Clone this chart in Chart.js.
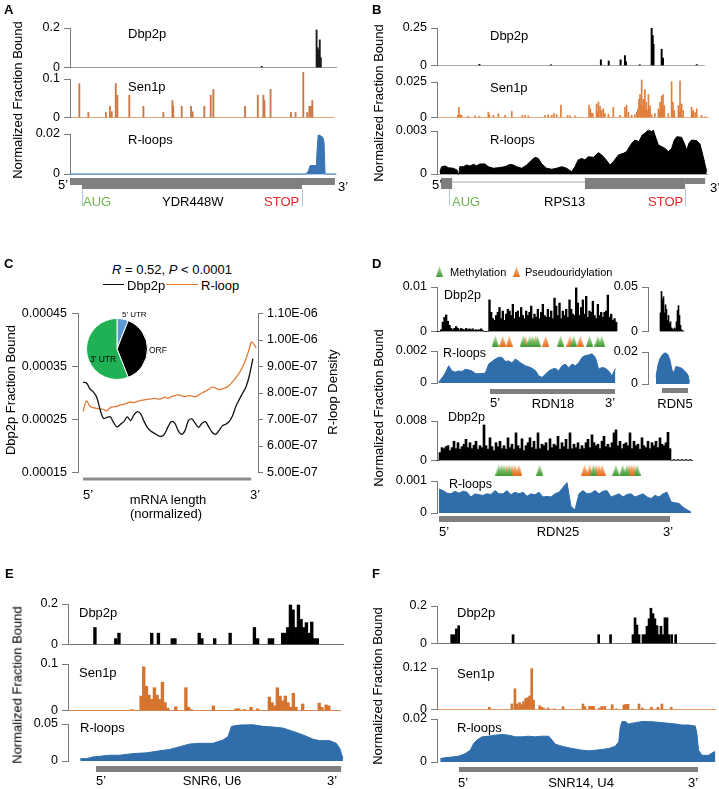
<!DOCTYPE html>
<html lang="en">
<head>
<meta charset="UTF-8" />
<title>Dbp2p, Sen1p and R-loop profiles</title>
<script src="https://cdn.jsdelivr.net/npm/chart.js"></script>
<style>
  html, body { margin: 0; padding: 0; background: #fff; }
  body {
    position: relative;
    width: 719px;
    height: 789px;
    overflow: hidden;
    font-family: "Liberation Sans", Arial, sans-serif;
    color: #000;
  }
  canvas { position: absolute; }
  .lbl { position: absolute; white-space: nowrap; line-height: 1; }
</style>
</head>
<body>
<script>
  // ---------- data (positions are along each locus, values are fraction bound / density) ----------

  // A: YDR448W
  const aDbpPos = [72.1, 92.7, 93.1, 93.5, 93.9, 94.3];
  const aDbpVal = [0.006, 0.19, 0.1, 0.09, 0.14, 0.05];
  const aSenPos = [3.5, 6.9, 13.5, 15.0, 15.7, 17.2, 17.8, 22.3, 27.6, 35.1, 38.5, 38.8, 42.0, 45.5, 46.1,
                   50.5, 52.9, 53.9, 65.8, 70.6, 72.7, 73.1, 75.4, 83.1, 84.8, 87.7, 89.2, 90.0, 90.6, 91.1];
  const aSenVal = [0.088, 0.013, 0.013, 0.029, 0.015, 0.088, 0.058, 0.058, 0.029, 0.013, 0.044, 0.03, 0.029, 0.029, 0.015,
                   0.029, 0.058, 0.073, 0.029, 0.058, 0.058, 0.044, 0.073, 0.013, 0.013, 0.117, 0.013, 0.029, 0.029, 0.044];
  const aRlPos = [0, 88.8, 89.6, 90.3, 92.6, 92.9, 93.3, 94.0, 95.1, 95.5, 95.9, 100];
  const aRlVal = [0, 0, 0.0015, 0.0042, 0.0042, 0.012, 0.0195, 0.0193, 0.0182, 0.016, 0, 0];
  const aLocus = [0, 99.6];
  const aOrf = [4.5, 87.2];

  // B: RPS13
  const bDbpPos = [15.7, 42.2, 60.7, 63.6, 68.0, 69.6, 70.0, 75.1, 79.5, 79.9, 80.2, 83.2, 83.7, 96.2];
  const bDbpVal = [0.008, 0.005, 0.038, 0.03, 0.038, 0.066, 0.024, 0.005, 0.248, 0.2, 0.141, 0.109, 0.05, 0.006];
  const bSenPos = [7.7, 8.1, 8.6, 9.1, 11.6, 14.1, 15.7, 19.0, 19.4, 20.9, 22.7, 25.2, 27.7, 31.6, 32.6, 33.8, 40.0,
                   41.2, 42.5, 43.3, 44.3, 45.9, 48.4, 49.3, 51.1, 56.3, 56.8, 57.3, 57.7, 59.1, 59.5, 59.8, 60.4,
                   61.0, 61.6, 62.2, 63.5, 65.3, 67.8, 69.6, 70.2, 70.9, 72.1, 73.3, 74.0, 74.4, 74.8, 75.2, 75.5,
                   75.8, 76.1, 76.4, 76.7, 77.0, 77.3, 77.5, 77.9, 78.3, 78.6, 78.9, 79.5, 80.7, 82.0, 82.3, 82.6,
                   82.9, 83.2, 83.5, 83.7, 84.0, 84.2, 85.7, 86.9, 87.2, 87.4, 87.9, 89.4, 89.7, 90.0, 90.3, 90.6,
                   91.2, 94.3, 94.6, 94.9, 95.6, 96.2, 98.0, 99.5];
  const bSenVal = [0.0015, 0.0072, 0.002, 0.0015, 0.0009, 0.0011, 0.0009, 0.0038, 0.002, 0.0016, 0.0027, 0.0016, 0.0043,
                   0.0016, 0.0016, 0.0011, 0.0016, 0.002, 0.0016, 0.0027, 0.002, 0.0088, 0.0016, 0.0011, 0.0011, 0.0088,
                   0.0061, 0.003, 0.0027, 0.0095, 0.004, 0.011, 0.0079, 0.005, 0.0061, 0.0027, 0.0023, 0.0072, 0.0016,
                   0.0072, 0.0088, 0.0038, 0.0016, 0.002, 0.0038, 0.006, 0.0128, 0.0162, 0.009, 0.0264, 0.008, 0.0128,
                   0.007, 0.0196, 0.006, 0.0106, 0.005, 0.0162, 0.006, 0.0083, 0.002, 0.0027, 0.0061, 0.004, 0.0106,
                   0.006, 0.0151, 0.008, 0.0162, 0.005, 0.0083, 0.0027, 0.0252, 0.006, 0.0106, 0.005, 0.0083, 0.004,
                   0.0259, 0.006, 0.0095, 0.005, 0.0072, 0.004, 0.005, 0.0034, 0.0061, 0.0016, 0.0005];
  const bRlPos = [1.1, 1.7, 3.0, 4.2, 6.0, 7.4, 7.7, 8.1, 8.4, 9.8, 11.0, 12.2, 13.5, 14.7, 15.9, 17.8, 19.0, 20.9,
                  22.7, 25.2, 27.0, 28.3, 29.5, 31.4, 33.2, 35.1, 36.3, 37.5, 38.8, 40.6, 42.5, 44.3, 46.2, 48.0,
                  49.9, 51.1, 52.3, 53.6, 54.8, 56.0, 57.9, 59.8, 61.0, 62.2, 64.1, 65.3, 67.2, 69.0, 70.2, 72.1,
                  73.3, 74.8, 76.0, 77.0, 78.3, 79.5, 80.1, 80.7, 82.0, 83.2, 84.4, 85.7, 86.9, 87.9, 88.8, 90.6,
                  91.6, 92.5, 93.3, 94.3, 96.2, 97.4, 98.6, 99.9];
  const bRlVal = [0.00016, 0.00051, 0.00056, 0.00044, 0.0004, 0.00028, 0, 0, 0.00051, 0.00051, 0.00063, 0.00056,
                  0.00067, 0.00058, 0.0007, 0.0007, 0.00051, 0.0004, 0.00044, 0.00051, 0.00067, 0.00063, 0.00051,
                  0.0004, 0.00063, 0.00098, 0.00116, 0.00109, 0.0007, 0.0004, 0.00033, 0.0004, 0.00051, 0.0004,
                  0.00016, 0.00051, 0.00098, 0.00109, 0.00098, 0.00121, 0.00116, 0.00149, 0.00133, 0.00109, 0.00063,
                  0.00086, 0.00133, 0.00144, 0.00156, 0.00214, 0.00237, 0.00226, 0.00272, 0.00284, 0.00307, 0.00295,
                  0.00307, 0.00272, 0.00202, 0.00191, 0.00179, 0.00156, 0.00179, 0.00237, 0.0026, 0.00256, 0.00214,
                  0.00167, 0.00214, 0.00237, 0.00233, 0.00209, 0.00121, 0.00016];
  const bExon1 = [1.5, 5.6];
  const bIntron = [5.6, 54.8];
  const bCds2 = [54.8, 91.9];
  const bUtr3 = [91.9, 99.3];
  const bAug = 4.4, bStop = 91.9;

  // C: metagene (x = % of mRNA length)
  const cDbpX = [0, 2, 4, 6, 8, 10, 12, 14, 16, 18, 20, 22, 24, 26, 28, 30, 32, 34, 36, 38, 40, 42, 44, 46, 48, 50,
                 52, 54, 56, 58, 60, 62, 64, 66, 68, 70, 72, 74, 76, 78, 80, 82, 84, 86, 88, 90, 92, 94, 96, 98, 100];
  const cDbp = [0.00032, 0.000319, 0.000308, 0.000302, 0.000292, 0.000269, 0.000252, 0.000254, 0.000255, 0.000244,
                0.000236, 0.000241, 0.000246, 0.000255, 0.000248, 0.000259, 0.000265, 0.00026, 0.000246, 0.000234,
                0.000228, 0.000224, 0.00022, 0.000218, 0.000223, 0.000236, 0.000246, 0.000243, 0.000229, 0.000222,
                0.000229, 0.000248, 0.000251, 0.000243, 0.000235, 0.000243, 0.000246, 0.000236, 0.000226, 0.000222,
                0.000229, 0.000238, 0.000241, 0.000246, 0.000257, 0.000275, 0.000288, 0.0003, 0.000312, 0.000334,
                0.000365];
  const cRlX = [0, 2, 4, 6, 8, 10, 12, 14, 16, 18, 20, 22, 24, 26, 28, 30, 32, 34, 36, 38, 40, 42, 44, 46, 48, 50,
                52, 54, 56, 58, 60, 62, 64, 66, 68, 70, 72, 74, 76, 78, 80, 82, 84, 86, 88, 90, 92, 94, 96, 98, 99, 100, 102];
  const cRl = [7.3e-7, 7.7e-7, 7.5e-7, 7.45e-7, 7.42e-7, 7.4e-7, 7.38e-7, 7.33e-7, 7.45e-7, 7.48e-7,
               7.5e-7, 7.55e-7, 7.57e-7, 7.62e-7, 7.66e-7, 7.64e-7, 7.68e-7, 7.72e-7, 7.74e-7, 7.76e-7,
               7.78e-7, 7.8e-7, 7.77e-7, 7.78e-7, 7.84e-7, 7.8e-7, 7.86e-7, 7.9e-7, 7.93e-7, 7.9e-7,
               7.86e-7, 7.9e-7, 7.88e-7, 7.86e-7, 7.92e-7, 8.0e-7, 8.06e-7, 8.14e-7, 8.22e-7, 8.18e-7,
               8.13e-7, 8.16e-7, 8.2e-7, 8.28e-7, 8.42e-7, 8.58e-7, 8.76e-7, 9.0e-7, 9.3e-7, 9.7e-7,
               9.92e-7, 9.88e-7, 9.7e-7];
  const cLeftTicks = [0.00015, 0.00025, 0.00035, 0.00045];
  const cLeftLabels = ['0.00015', '0.00025', '0.00035', '0.00045'];
  const cRightTicks = [5e-7, 6e-7, 7e-7, 8e-7, 9e-7, 1e-6, 1.1e-6];
  const cRightLabels = ['5.00E-07', '6.00E-07', '7.00E-07', '8.00E-07', '9.00E-07', '1.00E-06', '1.10E-06'];
  const cBar = [0, 99];
  const pieLabels = ['5’ UTR', 'ORF', '3’ UTR'];
  const pieShares = [6, 38, 56];

  // D: rDNA (RDN18, RDN5, RDN25), binned signals
  const d18Dbp = [0, 0, 0.0004, 0.0021, 0.0032, 0.0037, 0.0023, 0.0014, 0.0007, 0.0004, 0.0007, 0.0011, 0.0007,
                  0.0004, 0.0007, 0.0005, 0.0004, 0.0007, 0.0004, 0.0006, 0.0004, 0.0006, 0.0003, 0.0004, 0.0003,
                  0.0004, 0.0006, 0.0002, 0, 0, 0, 0.0071,
                  0.0043, 0.0029, 0.0025, 0.0036, 0.0043, 0.0054, 0.0029, 0.0046, 0.0025, 0.0039,
                  0.005, 0.0046, 0.0036, 0.0061, 0.0029, 0.0043, 0.0046, 0.0032, 0.0054, 0.0036,
                  0.0029, 0.0046, 0.0036, 0.0043, 0.0057, 0.0029, 0.0039, 0.0032, 0.005, 0.0029,
                  0.0043, 0.0061, 0.0036, 0.0032, 0.005, 0.0032, 0.0046, 0.0029, 0.0075, 0.0057,
                  0.0036, 0.0064, 0.0029, 0.0046, 0.0036, 0.005, 0.0032, 0.0071, 0.005, 0.0039,
                  0.0036, 0.0098, 0.0064, 0.0036, 0.0054, 0.0071, 0.0039, 0.0079, 0.0032, 0.0046,
                  0.0043, 0.0068, 0.0036, 0.0029, 0.0061, 0.0036, 0.0043, 0.0032, 0.0043, 0.0046,
                  0.0082, 0.0032, 0.0039, 0.0025, 0.0029, 0.0021];
  const d18Rl = [0.00005, 0.00032, 0.00062, 0.00108, 0.00075, 0.00068, 0.00075, 0.00072, 0.00086, 0.00082,
                 0.00075, 0.0006, 0.00058, 0.0006, 0.00062, 0.00118, 0.00135, 0.0015, 0.00161, 0.0016,
                 0.00135, 0.00138, 0.00125, 0.0015, 0.00135, 0.0012, 0.00108, 0.00101, 0.00092, 0.00078,
                 0.00045, 0.00035, 0.00054, 0.00075, 0.00086, 0.00092, 0.00075, 0.00108, 0.00118, 0.00095,
                 0.00118, 0.00108, 0.00125, 0.0016, 0.00172, 0.00175, 0.00183, 0.0016, 0.00086, 0.00097,
                 0.00092, 0.00075, 0.00045, 0.0009];
  const d18Methyl = [33.6, 51.6, 55.8, 57.6, 60.6, 75.6, 84, 94.2, 99.6, 102];
  const d18Pseudo = [38.4, 42.6, 52.8, 59.4, 66, 81.6, 88.2];
  const d18Gene = [31.8, 106.8];

  const d5Dbp = [0.021, 0.045, 0.036, 0.039, 0.021, 0.03, 0.025, 0.0125, 0.018, 0.009, 0.011, 0.004,
                 0.003, 0.002, 0.004, 0.003, 0.011, 0.0236, 0.029, 0.018, 0.007, 0.002, 0.001, 0.0005];
  const d5RlPos = [8, 10, 12, 14, 16, 18, 20, 22, 24, 26, 28, 30, 32, 34, 36, 38, 40, 41.5];
  const d5RlVal = [0.0045, 0.012, 0.0159, 0.0179, 0.0192, 0.0194, 0.0182, 0.0148, 0.0087, 0.0072, 0.011,
                   0.0106, 0.0103, 0.0097, 0.0085, 0.0072, 0.0055, 0.001];
  const d5Gene = [14, 40];

  const d25Dbp = [0,
    0.0016, 0.0026, 0.0024, 0.0028, 0.003, 0.002, 0.0026, 0.0039, 0.0024, 0.0036,
    0.0023, 0.0028, 0.0033, 0.0043, 0.0026, 0.0036, 0.0024, 0.0031, 0.0039, 0.0023,
    0.003, 0.0026, 0.0072, 0.003, 0.0023, 0.0046, 0.0028, 0.002, 0.0036, 0.0028,
    0.0039, 0.0024, 0.003, 0.0023, 0.0046, 0.0026, 0.0033, 0.0023, 0.0056, 0.003,
    0.0024, 0.0044, 0.002, 0.003, 0.0036, 0.0046, 0.0026, 0.0039, 0.0023, 0.0056,
    0.0024, 0.0033, 0.003, 0.0036, 0.002, 0.0044, 0.0026, 0.0033, 0.003, 0.0049,
    0.0023, 0.0036, 0.0028, 0.0043, 0.0023, 0.0056, 0.0024, 0.0033, 0.0026, 0.0036,
    0.0023, 0.003, 0.0024, 0.0036, 0.0043, 0.0026, 0.0052, 0.0036, 0.003, 0.0033,
    0.0024, 0.0039, 0.0049, 0.0028, 0.0033, 0.0026, 0.0036, 0.0056, 0.0062, 0.003,
    0.0039, 0.0024, 0.0033, 0.0036, 0.003, 0.0056, 0.0024, 0.0039, 0.003, 0.0033,
    0.0023, 0.0046, 0.003, 0.0026, 0.0039, 0.0024, 0.0036, 0.003, 0.0039, 0.0026,
    0.0046, 0.0033, 0.003, 0.0036, 0.0057, 0.0024,
    0, 0.0002, 0, 0.0002, 0, 0.0002, 0, 0.0002, 0, 0.0002, 0];
  const d25Rl = [0.00075, 0.0007, 0.00062, 0.0006, 0.00068, 0.00062, 0.00068, 0.00065, 0.0005, 0.0006,
                 0.00057, 0.00055, 0.0006, 0.00058, 0.0007, 0.0006, 0.0006, 0.0007, 0.00057, 0.00065,
                 0.0006, 0.00065, 0.00052, 0.0006, 0.00057, 0.00065, 0.0005, 0.00052, 0.0005, 0.0006,
                 0.00065, 0.0008, 0.00095, 0.0002, 0.0001, 0.0006, 0.0007, 0.0006, 0.00062, 0.0007,
                 0.0006, 0.00068, 0.0007, 0.0005, 0.00055, 0.0006, 0.0005, 0.00058, 0.0006, 0.0005,
                 0.00055, 0.0006, 0.0005, 0.00045, 0.00055, 0.0005, 0.0006, 0.00065, 0.00035, 0.00032,
                 0.0003, 0.00018, 0.0001, 0.00003];
  const d25Methyl = [29.3, 30.7, 32, 34.8, 50.7, 79, 90.7, 94.3, 96.5, 101.8];
  const d25Pseudo = [33.5, 36.2, 37.8, 39.8, 74.3, 77, 80.3, 81.8, 83.5, 97.8, 99, 100.2];
  const d25Gene = [1, 116.5];

  // E: SNR6 (U6)
  const eDbpPos = [10.1, 17.9, 19.1, 31.4, 33.9, 39.1, 40.1, 49.2, 50.2, 55, 60.8, 69.9, 71.1, 75.5, 76.7,
                   80.5, 81.4, 82.4, 83.4, 84.4, 85.4, 86.4, 87.4, 88.4, 89.4, 90.4, 91.4, 92.5, 93.5];
  const eDbpVal = [0.084, 0.029, 0.056, 0.056, 0.056, 0.029, 0.029, 0.056, 0.029, 0.029, 0.056, 0.084, 0.029, 0.029,
                   0.029, 0.056, 0.056, 0.084, 0.195, 0.171, 0.084, 0.195, 0.124, 0.084, 0.108, 0.056, 0.111, 0.029, 0.029];
  const eSenPos = [24, 27.4, 28.4, 29.4, 30.4, 31.4, 32.4, 33.4, 34.4, 35.4, 36.4, 37.4, 40.4, 44.2, 45.2, 46.2,
                   54.5, 63, 64, 66.1, 68.6, 71.1, 75.5, 76.5, 77.5, 78.5, 79.5, 80.5, 81.5, 82.5, 83.5, 84.5,
                   85.5, 88, 94.2, 95.2, 96.8, 97.8];
  const eSenVal = [0.002, 0.031, 0.094, 0.052, 0.033, 0.024, 0.049, 0.033, 0.024, 0.061, 0.017, 0.005, 0.008, 0.049,
                   0.007, 0.002, 0.01, 0.0035, 0.0035, 0.002, 0.007, 0.0035, 0.029, 0.017, 0.01, 0.049, 0.031, 0.021,
                   0.031, 0.017, 0.007, 0.037, 0.007, 0.014, 0.016, 0.007, 0.012, 0.01];
  const eRlPos = [4.6, 6.9, 9.4, 11.9, 15.6, 19.4, 24.4, 29.4, 34.4, 38.1, 41.9, 45.6, 49.4, 54.4, 58.1, 60, 61.3,
                  64.4, 69.4, 73.1, 76.9, 80.6, 84.4, 88.1, 91.9, 94.4, 98.1, 100.6, 101.9, 103.1];
  const eRlVal = [0.0032, 0.0032, 0.0055, 0.0064, 0.0078, 0.0078, 0.01, 0.011, 0.0138, 0.0156, 0.0193, 0.0229,
                  0.0239, 0.0239, 0.0284, 0.033, 0.0468, 0.0486, 0.049, 0.0468, 0.0459, 0.0445, 0.04, 0.0353,
                  0.0294, 0.0275, 0.0275, 0.0239, 0.017, 0.0032];
  const eGene = [10.5, 102.4];

  // F: SNR14 (U4)
  const fDbpPos = [6.3, 7.3, 8.3, 9.3, 32.6, 69.3, 74.4, 84, 84.9, 85.7, 86.6, 88.3, 89.1, 90, 90.9, 91.7, 92.6,
                   93.4, 94.3, 95.1, 96, 96.9, 97.7, 98.6, 99.4, 100.6, 102.3];
  const fDbpVal = [0.047, 0.047, 0.078, 0.095, 0.047, 0.047, 0.047, 0.047, 0.137, 0.098, 0.047, 0.047, 0.047, 0.092,
                   0.132, 0.188, 0.159, 0.132, 0.095, 0.047, 0.092, 0.047, 0.137, 0.137, 0.047, 0.047, 0.047];
  const fSenPos = [22.4, 32.1, 33.4, 34.3, 35.4, 36.3, 37.1, 38, 38.9, 39.7, 40.6, 41.4, 44, 44.9, 45.7, 47.6, 50.4,
                   54, 62.6, 63.4, 65.4, 66.3, 67.1, 69.7, 70.7, 71.9, 75.1, 76.9, 80.1, 81, 81.9, 86.6, 88, 91.9,
                   94.7, 96.4, 100.4];
  const fSenVal = [0.0065, 0.016, 0.06, 0.016, 0.02, 0.014, 0.023, 0.032, 0.034, 0.039, 0.118, 0.027, 0.011, 0.0065,
                   0.004, 0.004, 0.002, 0.008, 0.016, 0.008, 0.009, 0.009, 0.009, 0.004, 0.009, 0.009, 0.014, 0.002,
                   0.013, 0.015, 0.015, 0.016, 0.004, 0.0065, 0.0065, 0.016, 0.0065];
  const fRlPos = [1.4, 3.6, 6.4, 9.3, 12.1, 14.3, 15.7, 17.1, 19.3, 22.1, 25, 27.9, 30.7, 33.6, 36.4, 39.3, 42.1, 45,
                  47.9, 49.3, 50.7, 53.6, 57.9, 62.1, 65, 67.9, 70.7, 73.6, 76.4, 77.9, 78.6, 79.3, 80.7, 82.1, 85,
                  87.9, 90.7, 93.6, 96.4, 99.3, 102.1, 105, 107.9, 110.7, 111.4, 112.1, 113.6, 116.4, 118.6, 119.3];
  const fRlVal = [0.0016, 0.002, 0.0023, 0.0027, 0.0039, 0.0055, 0.0086, 0.0102, 0.0117, 0.012, 0.0125, 0.0128,
                  0.0125, 0.0117, 0.0117, 0.012, 0.0117, 0.012, 0.012, 0.0102, 0.0083, 0.0073, 0.0063, 0.0055,
                  0.0052, 0.0055, 0.0058, 0.0063, 0.0073, 0.0094, 0.0164, 0.0188, 0.0188, 0.0177, 0.0183, 0.0188,
                  0.0188, 0.0186, 0.0183, 0.018, 0.0177, 0.0172, 0.0172, 0.0167, 0.0133, 0.0055, 0.0031, 0.0031,
                  0.0047, 0.0047];
  const fGene = [9.4, 111.9];

  // ---------- styling ----------
  const AXIS = '#7a7a7a';
  const GREY = '#7f7f7f';
  const BLUE = '#2f6eaa';
  const ORANGE = '#d4742f';

  Chart.defaults.font.family = '"Liberation Sans", Arial, sans-serif';
  Chart.defaults.color = '#000';
  Chart.defaults.animation = false;
  Chart.defaults.plugins.legend.display = false;
  Chart.defaults.plugins.tooltip.enabled = false;

  function canvasAt(x, y, w, h) {
    const c = document.createElement('canvas');
    c.width = w;
    c.height = h;
    c.style.left = x + 'px';
    c.style.top = y + 'px';
    c.style.width = w + 'px';
    c.style.height = h + 'px';
    document.body.appendChild(c);
    return c;
  }

  function pts(xs, ys) {
    return xs.map((x, i) => ({ x: x, y: ys[i] }));
  }

  // equal-width bins: first bin centre and bin width along the locus
  function binned(ys, first, width) {
    return ys.map((y, i) => ({ x: first + i * width, y: y }));
  }

  function bars(data, color, thick) {
    return { type: 'bar', data: data, backgroundColor: color, barThickness: thick, clip: false };
  }

  function area(data, color) {
    return {
      type: 'line', data: data, borderColor: color, backgroundColor: color, borderWidth: 1,
      pointRadius: 0, fill: 'origin', tension: 0, clip: false
    };
  }

  // gene model drawn under the chart area, placed with the chart's own x scale
  function geneLayer(gene) {
    return {
      id: 'geneLayer',
      afterDraw(chart) {
        const { ctx, chartArea, scales } = chart;
        const x = scales.x;
        ctx.save();
        gene.parts.forEach(p => {
          const x0 = x.getPixelForValue(p.span[0]);
          const x1 = x.getPixelForValue(p.span[1]);
          ctx.fillStyle = p.color || GREY;
          ctx.fillRect(x0, chartArea.bottom + p.dy, x1 - x0, p.h);
        });
        (gene.marks || []).forEach(m => {
          const xm = Math.round(x.getPixelForValue(m)) + 0.5;
          ctx.strokeStyle = '#a9c8e6';
          ctx.lineWidth = 1;
          ctx.beginPath();
          ctx.moveTo(xm, chartArea.bottom + gene.markFrom);
          ctx.lineTo(xm, chartArea.bottom + gene.markTo);
          ctx.stroke();
        });
        ctx.restore();
      }
    };
  }

  // one signal track: y axis with 0 and max ticks, baseline at 0
  function track(t) {
    const axisW = 60, padT = 12, padR = 3, padB = t.padB || 10;
    const w = axisW + (t.right - t.axisX) + padR;
    const h = padT + (t.bottom - t.top) + padB;
    const c = canvasAt(t.axisX - axisW, t.top - padT, w, h);
    const yLabels = ['0', t.yLabel];
    new Chart(c, {
      type: 'bar',
      data: { datasets: t.datasets },
      options: {
        responsive: false,
        layout: { padding: { left: 0, top: padT, right: padR, bottom: padB } },
        scales: {
          x: {
            type: 'linear', min: 0, max: (t.right - t.axisX) / t.ppu, offset: false,
            ticks: { display: false },
            grid: { display: false, drawTicks: false },
            border: { display: !!t.base, color: t.base || AXIS, width: 1 }
          },
          y: {
            type: 'linear', min: 0, max: t.ymax,
            afterFit: s => { s.width = axisW; },
            afterBuildTicks: s => { s.ticks = [{ value: 0 }, { value: t.ymax }]; },
            ticks: { callback: (v, i) => yLabels[i], padding: 4, font: { size: 12.5 }, color: '#000' },
            grid: { drawOnChartArea: false, tickLength: 6, color: AXIS },
            border: { display: true, color: AXIS, width: 1 }
          }
        }
      },
      plugins: t.gene ? [geneLayer(t.gene)] : []
    });
  }

  function triImage(top, bottom) {
    const c = document.createElement('canvas');
    c.width = 7;
    c.height = 11;
    const g = c.getContext('2d');
    const grad = g.createLinearGradient(0, 0, 0, 11);
    grad.addColorStop(0, top);
    grad.addColorStop(1, bottom);
    g.fillStyle = grad;
    g.beginPath();
    g.moveTo(3.5, 0);
    g.lineTo(7, 11);
    g.lineTo(0, 11);
    g.closePath();
    g.fill();
    return c;
  }
  const TRI_G = ['#b9dea6', '#3f9b34'];
  const TRI_O = ['#f6c8a0', '#e66c17'];
  const triGreen = triImage(TRI_G[0], TRI_G[1]);
  const triOrange = triImage(TRI_O[0], TRI_O[1]);

  function modTrack(m) {
    const c = canvasAt(m.axisX, m.top, m.right - m.axisX, 12);
    new Chart(c, {
      type: 'scatter',
      data: {
        datasets: [
          { data: m.methyl.map(x => ({ x: x, y: 0.5 })), pointStyle: triGreen, pointRadius: 5, clip: false },
          { data: m.pseudo.map(x => ({ x: x, y: 0.5 })), pointStyle: triOrange, pointRadius: 5, clip: false }
        ]
      },
      options: {
        responsive: false,
        layout: { padding: 0 },
        scales: {
          x: { type: 'linear', min: 0, max: (m.right - m.axisX) / m.ppu, display: false },
          y: { min: 0, max: 1, display: false }
        }
      }
    });
  }

  // ---------- panel A ----------
  track({ axisX: 70, right: 336, top: 28, bottom: 69, ppu: 2.66, ymax: 0.2, yLabel: '0.2', base: '#9a9a9a',
          datasets: [bars(pts(aDbpPos, aDbpVal), '#1a1a1a', 1.2)] });
  track({ axisX: 70, right: 333, top: 79, bottom: 119, ppu: 2.66, ymax: 0.1, yLabel: '0.1', base: '#e2a57e',
          datasets: [bars(pts(aSenPos, aSenVal), '#c97845', 1.2)] });
  track({ axisX: 70, right: 336, top: 134, bottom: 174, ppu: 2.66, ymax: 0.02, yLabel: '0.02', base: '#b4cfe9',
          padB: 36, datasets: [area(pts(aRlPos, aRlVal), '#3a76b4')],
          gene: { parts: [{ span: aLocus, dy: 4, h: 7 }, { span: aOrf, dy: 4, h: 11 }],
                  marks: aOrf, markFrom: 15, markTo: 32 } });

  // ---------- panel B ----------
  track({ axisX: 437, right: 704, top: 28, bottom: 67, ppu: 2.7, ymax: 0.25, yLabel: '0.25', base: '#aaaaaa',
          datasets: [bars(pts(bDbpPos, bDbpVal), '#000', 1.3)] });
  track({ axisX: 437, right: 708, top: 82, bottom: 119, ppu: 2.7, ymax: 0.025, yLabel: '0.025', base: '#e9b08a',
          datasets: [bars(pts(bSenPos, bSenVal), '#e07e3c', 1)] });
  track({ axisX: 437, right: 707, top: 131, bottom: 174, ppu: 2.7, ymax: 0.003, yLabel: '0.003', base: '#aaaaaa',
          padB: 36, datasets: [area(pts(bRlPos, bRlVal), '#000')],
          gene: { parts: [{ span: bExon1, dy: 4, h: 11 }, { span: bIntron, dy: 7, h: 2, color: '#d6d6d6' },
                          { span: bCds2, dy: 4, h: 11 }, { span: bUtr3, dy: 4, h: 6 }],
                  marks: [bAug, bStop], markFrom: 15, markTo: 32 } });

  // ---------- panel C ----------
  const cCanvas = canvasAt(8, 301, 330, 184);
  new Chart(cCanvas, {
    type: 'line',
    data: {
      datasets: [
        { data: pts(cDbpX, cDbp), yAxisID: 'y', borderColor: '#111', borderWidth: 1.3, pointRadius: 0, tension: 0.35 },
        { data: pts(cRlX, cRl), yAxisID: 'y1', borderColor: '#e07b39', borderWidth: 1.3, pointRadius: 0, tension: 0.35 }
      ]
    },
    options: {
      responsive: false,
      layout: { padding: { left: 0, right: 0, top: 10, bottom: 12 } },
      scales: {
        x: { type: 'linear', min: -3, max: 103, display: false },
        y: {
          position: 'left', min: 0.00015, max: 0.00045,
          afterFit: s => { s.width = 70; },
          afterBuildTicks: s => { s.ticks = cLeftTicks.map(v => ({ value: v })); },
          ticks: { callback: (v, i) => cLeftLabels[i], padding: 5, font: { size: 12.5 } },
          grid: { drawOnChartArea: false, tickLength: 6, color: AXIS },
          border: { color: AXIS }
        },
        y1: {
          position: 'right', min: 5e-7, max: 1.1e-6,
          afterFit: s => { s.width = 80; },
          afterBuildTicks: s => { s.ticks = cRightTicks.map(v => ({ value: v })); },
          ticks: { callback: (v, i) => cRightLabels[i], padding: 4, font: { size: 12.5 } },
          grid: { drawOnChartArea: false, tickLength: 5, color: AXIS },
          border: { color: AXIS }
        }
      }
    },
    plugins: [geneLayer({ parts: [{ span: cBar, dy: 5, h: 3, color: '#8c8c8c' }] })]
  });

  const pieCanvas = canvasAt(85, 317, 64, 64);
  new Chart(pieCanvas, {
    type: 'pie',
    data: {
      labels: pieLabels,
      datasets: [{ data: pieShares, backgroundColor: ['#5b9bd5', '#000000', '#1fb153'], borderColor: '#fff', borderWidth: 1 }]
    },
    options: { responsive: false, layout: { padding: 1 } }
  });

  // ---------- panel D ----------
  track({ axisX: 437, right: 617, top: 287, bottom: 333, ppu: 1.667, ymax: 0.01, yLabel: '0.01',
          datasets: [bars(binned(d18Dbp, 0.5, 1), '#000', 1.7)] });
  modTrack({ axisX: 437, right: 617, top: 335, ppu: 1.667, methyl: d18Methyl, pseudo: d18Pseudo });
  track({ axisX: 437, right: 617, top: 351, bottom: 383, ppu: 1.667, ymax: 0.002, yLabel: '0.002', padB: 14,
          datasets: [area(binned(d18Rl, 1, 2), BLUE)],
          gene: { parts: [{ span: d18Gene, dy: 6, h: 5 }] } });
  track({ axisX: 648, right: 697, top: 287, bottom: 333, ppu: 1, ymax: 0.05, yLabel: '0.05',
          datasets: [bars(binned(d5Dbp, 12.5, 1), '#000', 1)] });
  track({ axisX: 648, right: 697, top: 352, bottom: 384, ppu: 1, ymax: 0.02, yLabel: '0.02', padB: 14,
          datasets: [area(pts(d5RlPos, d5RlVal), BLUE)],
          gene: { parts: [{ span: d5Gene, dy: 4, h: 5 }] } });
  track({ axisX: 437, right: 693, top: 421, bottom: 462, ppu: 2, ymax: 0.008, yLabel: '0.008',
          datasets: [bars(binned(d25Dbp, 0.5, 1), '#000', 2)] });
  modTrack({ axisX: 437, right: 693, top: 464, ppu: 2, methyl: d25Methyl, pseudo: d25Pseudo });
  track({ axisX: 437, right: 693, top: 481, bottom: 513, ppu: 2, ymax: 0.001, yLabel: '0.001', padB: 14,
          datasets: [area(binned(d25Rl, 1, 2), BLUE)],
          gene: { parts: [{ span: d25Gene, dy: 3, h: 6 }] } });

  // ---------- panel E ----------
  track({ axisX: 68, right: 343, top: 604, bottom: 646, ppu: 2.667, ymax: 0.2, yLabel: '0.2', base: '#777777',
          datasets: [bars(pts(eDbpPos, eDbpVal), '#000', 2.7)] });
  track({ axisX: 68, right: 340, top: 664, bottom: 712, ppu: 2.667, ymax: 0.1, yLabel: '0.1', base: '#dc8a55',
          datasets: [bars(pts(eSenPos, eSenVal), ORANGE, 2.7)] });
  track({ axisX: 68, right: 345, top: 724, bottom: 761, ppu: 2.667, ymax: 0.05, yLabel: '0.05', padB: 14,
          datasets: [area(pts(eRlPos, eRlVal), BLUE)],
          gene: { parts: [{ span: eGene, dy: 5, h: 6 }] } });

  // ---------- panel F ----------
  track({ axisX: 437, right: 715, top: 606, bottom: 645, ppu: 2.333, ymax: 0.2, yLabel: '0.2', base: '#777777',
          datasets: [bars(pts(fDbpPos, fDbpVal), '#000', 2)] });
  track({ axisX: 437, right: 715, top: 668, bottom: 711, ppu: 2.333, ymax: 0.12, yLabel: '0.12', base: '#e39a66',
          datasets: [bars(pts(fSenPos, fSenVal), ORANGE, 2)] });
  track({ axisX: 437, right: 717, top: 719, bottom: 762, ppu: 2.333, ymax: 0.02, yLabel: '0.02', padB: 14,
          datasets: [area(pts(fRlPos, fRlVal), BLUE)],
          gene: { parts: [{ span: fGene, dy: 5, h: 5 }] } });

  // ---------- text ----------
  function label(html, x, y, o) {
    o = o || {};
    const d = document.createElement('div');
    d.className = 'lbl';
    d.innerHTML = html;
    d.style.left = x + 'px';
    d.style.top = y + 'px';
    d.style.fontSize = (o.size || 13) + 'px';
    if (o.color) d.style.color = o.color;
    if (o.bold) d.style.fontWeight = 'bold';
    let tf = (o.center || o.rot) ? 'translate(-50%,-50%)' : 'translateY(-50%)';
    if (o.rot) tf += ' rotate(-90deg)';
    d.style.transform = tf;
    document.body.appendChild(d);
  }

  function legLine(x0, x1, y, color) {
    const d = document.createElement('div');
    d.style.cssText = 'position:absolute;left:' + x0 + 'px;top:' + y + 'px;width:' + (x1 - x0) +
      'px;height:0;border-top:1.5px solid ' + color;
    document.body.appendChild(d);
  }

  const YT = 'Normalized Fraction Bound';
  const GREEN_TXT = '#6cb24f', RED_TXT = '#e3262b';

  // A
  label('A', 4, 9, { bold: true });
  label(YT, 17, 100, { rot: true });
  label('Dbp2p', 128, 33);
  label('Sen1p', 128, 86);
  label('R-loops', 128, 139);
  label('5’', 58, 184);
  label('3’', 338, 186);
  label('AUG', 83, 201, { color: GREEN_TXT });
  label('YDR448W', 162, 201);
  label('STOP', 264, 201, { color: RED_TXT });

  // B
  label('B', 372, 9, { bold: true });
  label(YT, 378, 103, { rot: true });
  label('Dbp2p', 490, 35);
  label('Sen1p', 490, 87);
  label('R-loops', 490, 139);
  label('5’', 432, 184);
  label('3’', 710, 187);
  label('AUG', 452, 201, { color: GREEN_TXT });
  label('RPS13', 544, 201);
  label('STOP', 648, 201, { color: RED_TXT });

  // C
  label('C', 4, 263, { bold: true });
  label('<i>R</i> = 0.52, <i>P</i> &lt; 0.0001', 172, 269, { center: true });
  legLine(103, 124, 284, '#111');
  label('Dbp2p', 127, 285);
  legLine(166, 198, 284, '#e07b39');
  label('R-loop', 201, 285);
  label('5’ UTR', 122, 315, { size: 8 });
  label('ORF', 149, 350, { size: 8.5 });
  label('3’ UTR', 90, 359, { size: 8.5 });
  label('Dbp2p Fraction Bound', 10, 390, { rot: true });
  label('R-loop Density', 332, 392, { rot: true });
  label('5’', 83, 494);
  label('3’', 250, 494);
  label('mRNA length', 168, 499, { center: true });
  label('(normalized)', 166, 513, { center: true });

  // D
  label('D', 372, 263, { bold: true });
  const legG = triImage(TRI_G[0], TRI_G[1]);
  legG.style.left = '436px'; legG.style.top = '266px';
  document.body.appendChild(legG);
  label('Methylation', 450, 272, { size: 11 });
  const legO = triImage(TRI_O[0], TRI_O[1]);
  legO.style.left = '513px'; legO.style.top = '266px';
  document.body.appendChild(legO);
  label('Pseudouridylation', 525, 272, { size: 11 });
  label(YT, 378, 408, { rot: true });
  label('Dbp2p', 444, 295, { size: 12.5 });
  label('R-loops', 443, 353, { size: 12.5 });
  label('Dbp2p', 448, 417, { size: 12.5 });
  label('R-loops', 449, 484, { size: 12.5 });
  label('5’', 490, 402);
  label('RDN18', 553, 403, { center: true });
  label('3’', 605, 402);
  label('RDN5', 675, 403, { center: true });
  label('5’', 439, 531);
  label('RDN25', 558, 531, { center: true });
  label('3’', 663, 531);

  // E
  label('E', 5, 573, { bold: true });
  label(YT, 17, 685, { rot: true });
  label('Dbp2p', 79, 612);
  label('Sen1p', 79, 672);
  label('R-loops', 80, 727);
  label('5’', 96, 780);
  label('SNR6, U6', 212, 780, { center: true });
  label('3’', 327, 780);

  // F
  label('F', 372, 573, { bold: true });
  label(YT, 377, 686, { rot: true });
  label('Dbp2p', 457, 612);
  label('Sen1p', 457, 673);
  label('R-loops', 457, 727);
  label('5’', 458, 782);
  label('SNR14, U4', 581, 782, { center: true });
  label('3’', 688, 782);
</script>
</body>
</html>
